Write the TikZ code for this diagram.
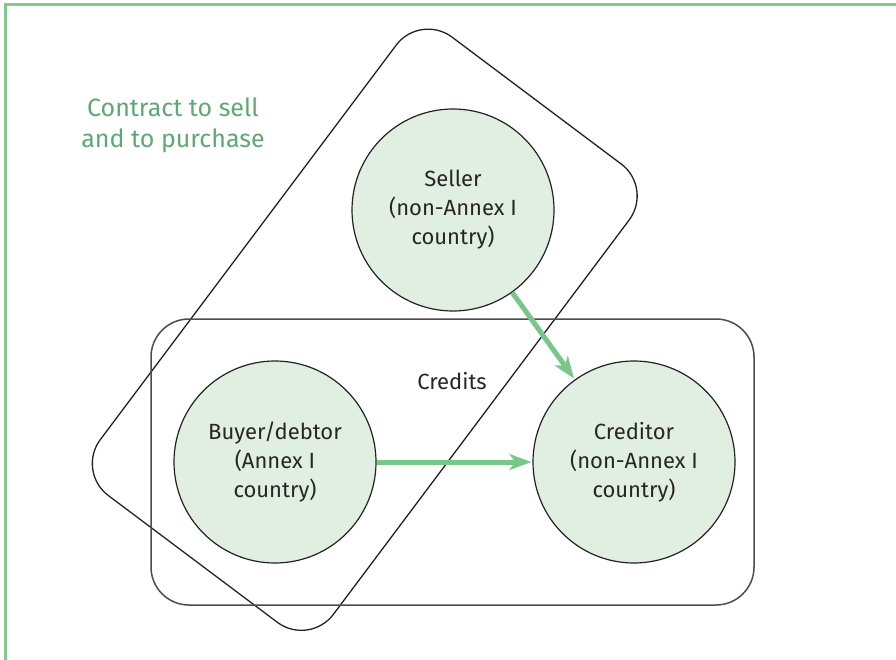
\documentclass[tikz,border=0pt]{standalone}
\usepackage{fontspec}
\setmainfont{Fira Sans}
\usetikzlibrary{arrows.meta}
\definecolor{framegreen}{HTML}{7FCB8F}
\definecolor{arrowgreen}{HTML}{79C68A}
\definecolor{textgreen}{HTML}{5FA874}
\definecolor{circfill}{HTML}{E1EFE3}
\definecolor{outline}{HTML}{222222}
\tikzset{
  party/.style={circle, draw=outline, line width=1.2pt, fill=circfill, minimum size=202pt,
    inner sep=0pt, align=center, font=\fontsize{22}{29}\selectfont, text=black!85},
  flowarrow/.style={draw=arrowgreen, line width=5pt,
    -{Stealth[length=22pt,width=16pt,inset=6pt]}, shorten >=1pt},
  groupbox/.style={draw=outline, line width=1.3pt, inner sep=0pt}
}
\begin{document}
\begin{tikzpicture}[x=1pt,y=-1pt]
\useasboundingbox (0,0) rectangle (896,660);
% frame
\draw[framegreen, line width=3pt] (5,670) -- (5,4.5) -- (906,4.5);
% contract rotated rounded rectangle
\node[groupbox, rounded corners=40pt, minimum width=291.3pt, minimum height=573pt, rotate=-36.87]
  (contract) at (364.75,329.75) {};
% credits rounded rectangle
\node[groupbox, draw=black!70, line width=1.5pt, rounded corners=38pt, minimum width=603pt, minimum height=286pt]
  (creditsbox) at (452.5,462) {};
\node[font=\fontsize{22}{29}\selectfont, text=black!85] (creditslabel) at (452,381) {Credits};
\node[align=center, font=\fontsize{25}{31}\selectfont, text=textgreen] (contractlabel) at (173,125)
  {Contract to sell\\and to purchase};
% parties
\node[party] (seller) at (453,210) {Seller\\(non-Annex I\\country)};
\node[party] (buyer) at (275,462) {Buyer/debtor\\(Annex I\\country)};
\node[party] (creditor) at (634,462) {Creditor\\(non-Annex I\\country)};
% arrows
\draw[flowarrow] (seller) -- (creditor);
\draw[flowarrow] (buyer) -- (creditor);
\end{tikzpicture}
\end{document}
